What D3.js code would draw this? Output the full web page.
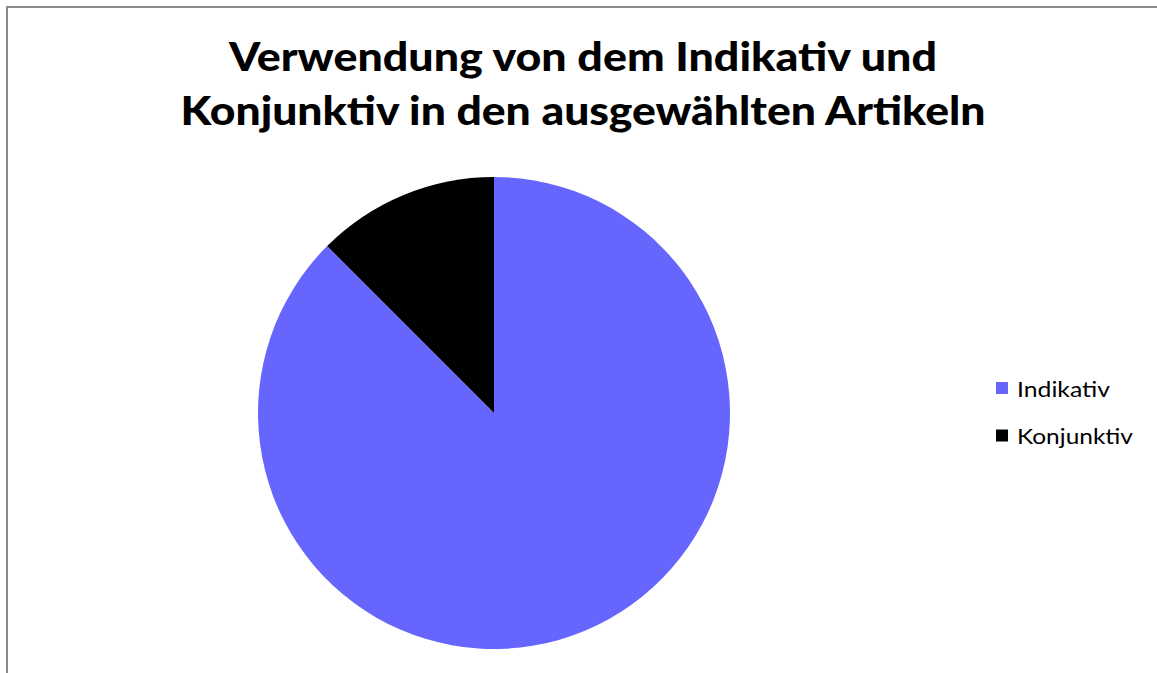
<!DOCTYPE html>
<html>
<head>
<meta charset="utf-8">
<script src="https://cdn.jsdelivr.net/npm/d3@7"></script>
<style>
  body { margin: 0; background: #fff; }
  svg { display: block; font-family: Lato, "Open Sans", sans-serif; }
</style>
</head>
<body>
<div id="chart"></div>
<script>
const categories = ['Indikativ', 'Konjunktiv'];
const values = [87.5, 12.5];
const colors = ['#6666ff', '#000000'];
const titleLines = ['Verwendung von dem Indikativ und', 'Konjunktiv in den ausgewählten Artikeln'];

const width = 1157, height = 673;

const svg = d3.select('#chart').append('svg')
  .attr('width', width)
  .attr('height', height);

// chart frame (right/bottom edges fall outside the window)
svg.append('rect')
  .attr('x', 7).attr('y', 7)
  .attr('width', 1300).attr('height', 900)
  .attr('fill', 'none')
  .attr('stroke', '#8a8a8a')
  .attr('stroke-width', 2);

// title
const titleWidths = [708, 805];
svg.selectAll('.title')
  .data(titleLines)
  .enter().append('text')
  .attr('class', 'title')
  .attr('x', 583)
  .attr('y', (d, i) => 71 + i * 53.5)
  .attr('text-anchor', 'middle')
  .attr('font-size', 40)
  .attr('font-weight', 900)
  .attr('fill', '#000')
  .attr('textLength', (d, i) => titleWidths[i])
  .attr('lengthAdjust', 'spacingAndGlyphs')
  .text(d => d);

// pie
const radius = 236;
const pie = d3.pie().sort(null).value(d => d.value);
const arc = d3.arc().innerRadius(0).outerRadius(radius);
const color = d3.scaleOrdinal().domain(categories).range(colors);

const data = categories.map((c, i) => ({ name: c, value: values[i] }));

const g = svg.append('g')
  .attr('transform', 'translate(494,413)');

g.selectAll('path')
  .data(pie(data))
  .enter().append('path')
  .attr('d', arc)
  .attr('fill', d => color(d.data.name));

// legend
const legend = svg.append('g')
  .attr('transform', 'translate(996,382)');

const legendWidths = [93, 116];
const item = legend.selectAll('.item')
  .data(categories)
  .enter().append('g')
  .attr('class', 'item')
  .attr('transform', (d, i) => 'translate(0,' + i * 47.5 + ')');

item.append('rect')
  .attr('width', 12)
  .attr('height', 12)
  .attr('fill', d => color(d));

item.append('text')
  .attr('x', 21)
  .attr('y', 14.5)
  .attr('font-size', 21)
  .attr('fill', '#000')
  .attr('textLength', (d, i) => legendWidths[i])
  .attr('lengthAdjust', 'spacingAndGlyphs')
  .text(d => d);
</script>
</body>
</html>
